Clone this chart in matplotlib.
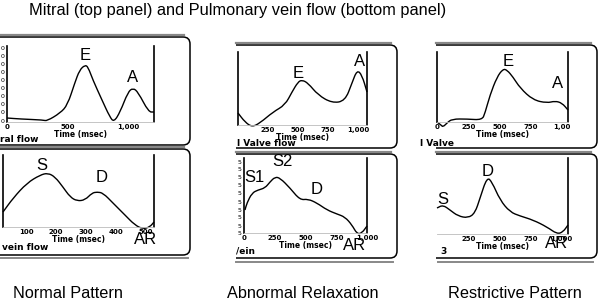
import numpy as np
import matplotlib
matplotlib.use("Agg")
import matplotlib.pyplot as plt
from matplotlib.patches import FancyBboxPatch, Rectangle, PathPatch
from matplotlib.path import Path

# --- datos (tiempo en ms, velocidad en unidades relativas) ---
# Patrón normal: flujo mitral
normal_mitral_t = [0, 110, 300, 330, 440, 500, 560, 600, 645, 670, 710, 785, 850, 884, 935, 1000, 1041, 1083, 1170, 1215]
normal_mitral_v = [4, 3, 2, 1, 9, 17, 39, 52, 57, 55, 42, 22, 5, 0, 10, 30, 34, 30, 10, 10]
# Patrón normal: vena pulmonar
normal_vein_t = [23, 57, 103, 147, 173, 197, 223, 247, 270, 297, 320, 337, 357, 390, 430, 463, 490, 513, 527]
normal_vein_v = [15, 29, 44, 52, 54, 50, 40, 30, 26, 27, 34, 35, 34, 24, 12, 2, -2, 0, 5]
# Relajación anormal: flujo mitral
abn_mitral_t = [0, 58, 117, 183, 292, 392, 450, 500, 533, 583, 667, 783, 892, 950, 992, 1033, 1075]
abn_mitral_v = [12, 3, -2, 2, 13, 20, 33, 43, 45, 42, 30, 22, 24, 42, 55, 50, 33]
# Relajación anormal: vena pulmonar
abn_vein_t = [8, 24, 65, 114, 171, 211, 252, 293, 374, 455, 520, 593, 675, 756, 821, 878, 919, 959, 1000]
abn_vein_v = [23, 30, 40, 43, 45, 51, 56, 55, 45, 33, 34, 30, 23, 19, 16, 8, -1, 0, 7]
# Patrón restrictivo: flujo mitral
restr_mitral_t = [0, 32, 48, 80, 120, 241, 361, 385, 425, 481, 529, 561, 609, 666, 770, 882, 946, 1002, 1050]
restr_mitral_v = [0, -3, -5, -1, 3, 3, 2, 9, 27, 45, 53, 52, 45, 34, 22, 19, 21, 19, 12]
# Patrón restrictivo: vena pulmonar
restr_vein_t = [0, 48, 104, 168, 249, 305, 345, 401, 441, 505, 585, 666, 770, 882, 962, 1010, 1050]
restr_vein_v = [26, 29, 24, 18, 16, 21, 36, 57, 52, 34, 22, 18, 14, 7, 0, 2, 9]

# marcas del eje y que quedan visibles (recortadas) en dos paneles
normal_mitral_yticks = [1, 10, 18, 26, 34, 42, 50, 58, 66, 74]
abn_vein_yticks = [0, 7, 16, 23, 31, 40, 48, 56, 64, 71]

titulo = "Mitral (top panel) and Pulmonary vein flow (bottom panel)"
patrones = ["Normal Pattern", "Abnormal Relaxation", "Restrictive Pattern"]

W, H = 600, 301
fig = plt.figure(figsize=(W / 100, H / 100), dpi=100)

# --- capa de fondo en píxeles para cajas y textos ---
ov = fig.add_axes([0, 0, 1, 1])
ov.set_xlim(0, W)
ov.set_ylim(H, 0)
ov.axis('off')

def caja(x0, x1, y0, y1, clip_x):
    # caja redondeada recortada a la izquierda (la imagen original está recortada)
    p = FancyBboxPatch((x0, y0), x1 - x0, y1 - y0, boxstyle="round,pad=0,rounding_size=7",
                       fill=False, ec='black', lw=1.1)
    ov.add_patch(p)
    r = Rectangle((clip_x, 0), W, H, transform=ov.transData, visible=False)
    ov.add_patch(r)
    p.set_clip_path(r)
    ov.plot([clip_x, x1 - 6], [y0 - 2.5, y0 - 2.5], color='#888888', lw=1.6)

caja(-30, 190, 37, 145, 0)
caja(-30, 190, 149, 255, 0)
ov.plot([0, 188], [257.5, 257.5], color='#888888', lw=1.4)
caja(200, 397, 45, 148, 236)
caja(200, 397, 154, 258, 236)
ov.plot([236, 393], [262, 262], color='#888888', lw=1.4)
caja(400, 597, 45, 148, 436)
caja(400, 597, 154, 258, 436)
ov.plot([438, 593], [262, 262], color='#888888', lw=1.4)

ov.text(29, 11, titulo, fontsize=11.8, family='Liberation Sans', va='center', ha='left')
for xc, txt in zip([68, 303, 515], patrones):
    ov.text(xc, 293, txt, fontsize=11.7, family='Liberation Sans', va='center', ha='center')

# --- curva suave (Bezier cuadrática por los puntos medios) ---
def curva(ax, t, v):
    pts = np.column_stack([t, v]).astype(float)
    verts = [pts[0], (pts[0] + pts[1]) / 2]
    codes = [Path.MOVETO, Path.LINETO]
    for i in range(1, len(pts) - 1):
        verts += [pts[i], (pts[i] + pts[i + 1]) / 2]
        codes += [Path.CURVE3, Path.CURVE3]
    verts.append(pts[-1])
    codes.append(Path.LINETO)
    ax.add_patch(PathPatch(Path(verts, codes), fill=False, ec='black', lw=1.0, clip_on=False))

# --- paneles con las curvas ---
def panel(px, xlim, ylim, t, v, ticks, ticklabels, left=True):
    x0, x1, ytop, ybase = px
    ax = fig.add_axes([x0 / W, 1 - ybase / H, (x1 - x0) / W, (ybase - ytop) / H])
    ax.set_facecolor('none')
    curva(ax, t, v)
    ax.set_xlim(*xlim)
    ax.set_ylim(*ylim)
    ax.spines['top'].set_visible(False)
    ax.spines['left'].set_visible(left)
    ax.spines['left'].set_linewidth(1.2)
    ax.spines['right'].set_linewidth(1.2)
    ax.spines['bottom'].set_color('#bbbbbb')
    ax.spines['bottom'].set_linewidth(0.6)
    ax.set_yticks([])
    ax.set_xticks(ticks)
    ax.set_xticklabels(ticklabels, fontsize=5, fontweight='bold')
    ax.tick_params(axis='x', length=0, pad=1.5)
    ax.tick_params(axis='y', length=0, pad=1.5, labelsize=4.5)
    ax.set_xlabel("Time (msec)", fontsize=5.5, fontweight='bold', labelpad=0)
    return ax

a1 = panel((7, 154, 46, 122), (0, 1215), (0, 76), normal_mitral_t, normal_mitral_v,
           [0, 500, 1000], ["0", "500", "1,000"])
a1.set_yticks(normal_mitral_yticks)
a1.set_yticklabels(["0"] * len(normal_mitral_yticks))
a2 = panel((3, 154, 155, 227), (23, 527), (0, 72), normal_vein_t, normal_vein_v,
           [100, 200, 300, 400, 500], ["100", "200", "300", "400", "500"])
a3 = panel((238, 367, 52, 125), (0, 1075), (0, 73), abn_mitral_t, abn_mitral_v,
           [250, 500, 750, 1000], ["250", "500", "750", "1,000"])
a4 = panel((244, 367, 158, 233), (0, 1000), (0, 75), abn_vein_t, abn_vein_v,
           [0, 250, 500, 750, 1000], ["0", "250", "500", "750", "1,000"])
a4.set_yticks(abn_vein_yticks)
a4.set_yticklabels(["5"] * len(abn_vein_yticks))
a5 = panel((437, 568, 52, 122), (0, 1050), (0, 70), restr_mitral_t, restr_mitral_v,
           [0, 250, 500, 750, 1000], ["0", "250", "500", "750", "1,00"])
a6 = panel((437, 568, 158, 234), (0, 1050), (0, 76), restr_vein_t, restr_vein_v,
           [250, 500, 750, 1000], ["250", "500", "750", "1,000"], left=False)

# --- etiquetas de ondas ---
kw = dict(fontsize=12, family='Liberation Sans', ha='center', va='center')
ov.text(85, 55, "E", **kw)
ov.text(133, 78, "A", **kw)
ov.text(42, 165, "S", **kw)
ov.text(102, 178, "D", **kw)
ov.text(146, 240, "AR", **kw)
ov.text(298, 73, "E", **kw)
ov.text(360, 62, "A", **kw)
ov.text(254, 178, "S1", **kw)
ov.text(282, 162, "S2", **kw)
ov.text(317, 189, "D", **kw)
ov.text(355, 245, "AR", **kw)
ov.text(508, 62, "E", **kw)
ov.text(558, 83, "A", **kw)
ov.text(443, 199, "S", **kw)
ov.text(488, 172, "D", **kw)
ov.text(557, 244, "AR", **kw)

# --- restos de títulos de los paneles (recortados en el original) ---
sk = dict(fontsize=6.5, fontweight='bold', va='center', ha='left')
ov.text(0, 139, "ral flow", **sk)
ov.text(2, 247, "vein flow", **sk)
ov.text(237, 144, "l Valve flow", **sk)
ov.text(236, 251, "/ein", **sk)
ov.text(420, 144, "l Valve", **sk)
ov.text(440, 252, "3", **sk)

fig.savefig("out.png", dpi=100)
